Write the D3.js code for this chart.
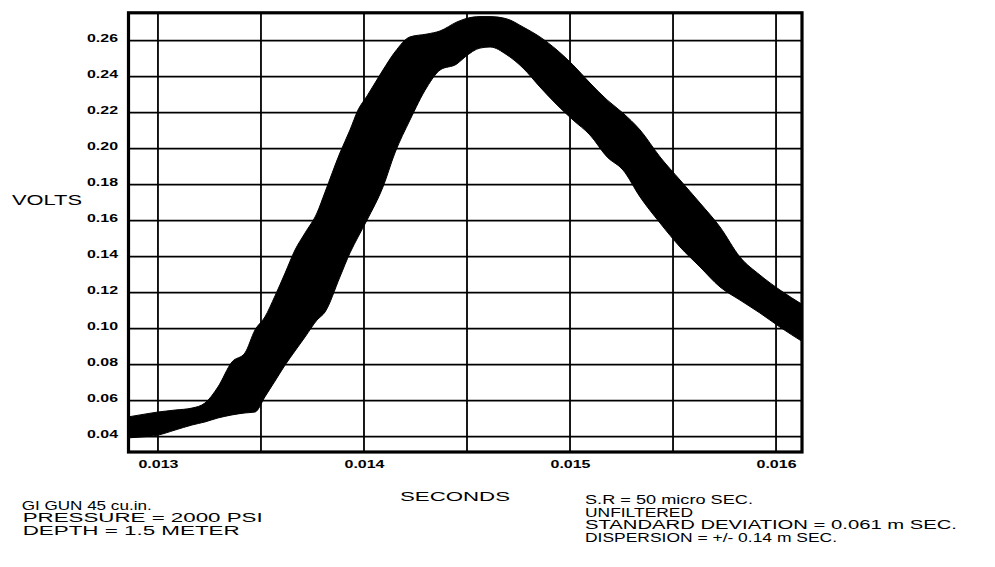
<!DOCTYPE html>
<html><head><meta charset="utf-8">
<script src="https://cdn.jsdelivr.net/npm/d3@7"></script>
<style>html,body{margin:0;padding:0;background:#fff;}svg{display:block;}</style>
</head><body>
<svg id="chart" width="995" height="567"></svg>
<script>
// ---- data ----
const timeSec = [0.012850,0.012913,0.013000,0.013083,0.013165,0.013228,0.013291,0.013359,0.013422,0.013471,
  0.013519,0.013568,0.013617,0.013665,0.013714,0.013772,0.013811,0.013883,0.013932,0.013971,
  0.014015,0.014092,0.014150,0.014223,0.014306,0.014369,0.014451,0.014490,0.014563,0.014612,
  0.014694,0.014772,0.014854,0.014937,0.015015,0.015097,0.015180,0.015257,0.015340,0.015437,
  0.015534,0.015631,0.015728,0.015825,0.015922,0.016019,0.016131];
const upperVolts = [0.0509,0.0521,0.0537,0.0548,0.0559,0.0587,0.0676,0.0815,0.0865,0.0993,
  0.1065,0.1182,0.1309,0.1437,0.1532,0.1643,0.1759,0.1976,0.2104,0.2215,
  0.2293,0.2437,0.2537,0.2621,0.2637,0.2654,0.2704,0.2721,0.2734,0.2734,
  0.2721,0.2676,0.2621,0.2548,0.2465,0.2365,0.2271,0.2198,0.2104,0.1954,
  0.1826,0.1698,0.1565,0.1398,0.1298,0.1215,0.1132];
const lowerVolts = [0.0393,0.0398,0.0409,0.0437,0.0465,0.0482,0.0504,0.0521,0.0532,0.0537,
  0.0621,0.0709,0.0798,0.0876,0.0954,0.1048,0.1093,0.1287,0.1421,0.1509,
  0.1604,0.1787,0.1976,0.2159,0.2343,0.2437,0.2471,0.2509,0.2559,0.2565,
  0.2521,0.2448,0.2343,0.2243,0.2159,0.2076,0.1954,0.1882,0.1732,0.1587,
  0.1454,0.1343,0.1232,0.1159,0.1087,0.1009,0.0926];
const xTickValues = [0.013, 0.014, 0.015, 0.016];
const xGridValues = [0.013, 0.0135, 0.014, 0.0145, 0.015, 0.0155, 0.016];
const yTickValues = [0.04,0.06,0.08,0.10,0.12,0.14,0.16,0.18,0.20,0.22,0.24,0.26];
const yAxisTitle = "VOLTS";
const xAxisTitle = "SECONDS";
const notesLeft = ["GI GUN 45 cu.in.", "PRESSURE = 2000 PSI", "DEPTH = 1.5 METER"];
const notesRight = ["S.R = 50 micro SEC.", "UNFILTERED", "STANDARD DEVIATION = 0.061 m SEC.", "DISPERSION = +/- 0.14 m SEC."];

// ---- layout ----
const W = 995, H = 567;
const P = {left:128.5, right:802, top:12.8, bottom:452};
const FONT = "'Liberation Sans', Arial, sans-serif";
const svg = d3.select("#chart");

const x = d3.scaleLinear().domain([0.012857, 0.016126]).range([P.left, P.right]);
const y = d3.scaleLinear().domain([0.0315, 0.2755]).range([P.bottom, P.top]);

svg.append("defs").append("clipPath").attr("id","clip")
  .append("rect").attr("x",P.left).attr("y",P.top).attr("width",P.right-P.left).attr("height",P.bottom-P.top);

// grid
const grid = svg.append("g");
grid.selectAll("line.v").data(xGridValues).join("line").attr("class","v")
  .attr("x1",d=>x(d)).attr("x2",d=>x(d)).attr("y1",P.top).attr("y2",P.bottom)
  .attr("stroke","#000").attr("stroke-width",1.8);
grid.selectAll("line.h").data(yTickValues).join("line").attr("class","h")
  .attr("y1",d=>y(d)).attr("y2",d=>y(d)).attr("x1",P.left).attr("x2",P.right)
  .attr("stroke","#000").attr("stroke-width",1.8);

// band of overlapping traces
const bandData = timeSec.map((t,i)=>({t, hi:upperVolts[i], lo:lowerVolts[i]}));
const area = d3.area().x(d=>x(d.t)).y0(d=>y(d.lo)).y1(d=>y(d.hi)).curve(d3.curveMonotoneX);
svg.append("path").datum(bandData).attr("clip-path","url(#clip)")
  .attr("d",area).attr("fill","#000").attr("stroke","#000").attr("stroke-width",1);

// frame
svg.append("rect").attr("x",P.left).attr("y",P.top).attr("width",P.right-P.left).attr("height",P.bottom-P.top)
  .attr("fill","none").attr("stroke","#000").attr("stroke-width",3.2);

// axes (labels only)
const yAxis = d3.axisLeft(y).tickValues(yTickValues).tickSize(0).tickPadding(10.5).tickFormat(d3.format(".2f"));
const gy = svg.append("g").attr("transform",`translate(${P.left},0)`).call(yAxis);
gy.select(".domain").remove();
gy.selectAll("text").attr("font-family",FONT).attr("font-size",10.5).attr("font-weight","bold")
  .attr("fill","#000").attr("dy","0.05em").attr("textLength",31).attr("lengthAdjust","spacingAndGlyphs");

const xAxis = d3.axisBottom(x).tickValues(xTickValues).tickSize(0).tickPadding(8.5).tickFormat(d3.format(".3f"));
const gx = svg.append("g").attr("transform",`translate(0,${P.bottom})`).call(xAxis);
gx.select(".domain").remove();
gx.selectAll("text").attr("font-family",FONT).attr("font-size",10.5).attr("font-weight","bold")
  .attr("fill","#000").attr("textLength",40).attr("lengthAdjust","spacingAndGlyphs");

function stretchedText(str, x0, yb, len, size){
  svg.append("text").attr("x",x0).attr("y",yb).attr("font-family",FONT).attr("font-size",size)
    .attr("fill","#000").attr("textLength",len).attr("lengthAdjust","spacingAndGlyphs").text(str);
}
stretchedText(yAxisTitle, 12, 205, 70, 14);
stretchedText(xAxisTitle, 400, 501, 110, 13);

const leftLens = [130, 240, 217], leftX = [21.7, 22.7, 22.7];
notesLeft.forEach((s,i)=>stretchedText(s, leftX[i], 509.5 + i*12.8, leftLens[i], 12.5));
const rightLens = [168, 108, 372, 252];
notesRight.forEach((s,i)=>stretchedText(s, 585, 504 + i*12.6, rightLens[i], 12.5));
</script>
</body></html>
